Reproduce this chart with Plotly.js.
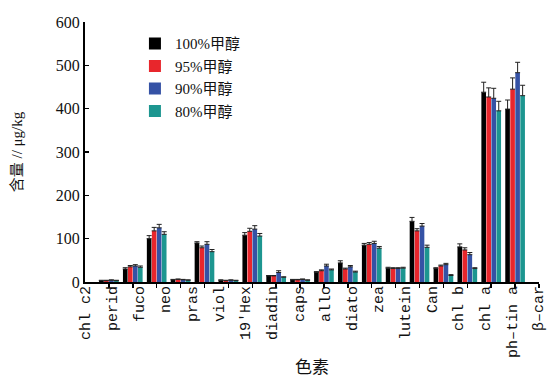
<!DOCTYPE html>
<html>
<head>
<meta charset="utf-8">
<script src="https://cdn.plot.ly/plotly-3.0.1.min.js"></script>
<style>html,body{margin:0;padding:0;background:#fff;}#chart{width:548px;height:379px;}</style>
</head>
<body>
<div id="chart"></div>
<script>
// pigment labels (tick text, evenly spread along the axis)
var pigments = ["chl c2","perid","fuco","neo","pras","viol","19\u2032Hex","diadin","caps","allo","diato","zea","lutein","Can","chl b","chl a","ph\u2013tin a","\u03b2\u2013car"];
// bar group positions (1..18)
var groupPos = [1,2,3,4,5,6,7,8,9,10,11,12,13,14,15,16,17,18];

var seriesNames = ["100%甲醇","95%甲醇","90%甲醇","80%甲醇"];
var seriesColors = ["#000000","#e8262c","#3552a5","#1d9690"];

var m100 = [3,30,100,5,90,4,108,14,5,22,44,85,32,140,31,81,438,399];
var m95  = [3,35,118,6,79,3,117,14,5,26,30,87,31,118,37,74,427,445];
var m90  = [4,37,125,5,87,4,122,22,6,37,35,89,31,129,40,63,424,483];
var m80  = [3,34,110,4,70,3,106,11,4,28,23,78,32,80,15,31,395,430];

var e100 = [1,3,7,1,3,1,6,1,1,2,5,4,2,9,2,7,23,21];
var e95  = [1,3,8,1,4,1,7,1,1,2,2,4,2,5,2,5,21,26];
var e90  = [1,3,8,1,6,1,8,4,1,4,3,5,2,6,3,5,23,24];
var e80  = [1,3,6,1,5,1,6,1,1,2,2,4,2,5,2,2,22,24];

var tickVals = [0,1,2,3,4,5,6,7,8,9,10,11,12,13,14,15,16,17];
var yTicks = [0,100,200,300,400,500,600];

var vals = [m100,m95,m90,m80];
var errs = [e100,e95,e90,e80];
var zeros = groupPos.map(function(){return 0;});

var font = "'Liberation Serif', 'Times New Roman', 'Noto Sans CJK SC', serif";

var traces = vals.map(function(v,i){
  return {
    type:"bar", x:groupPos, y:v, name:seriesNames[i],
    marker:{color:seriesColors[i], line:{width:0}},
    error_y:{type:"data", array:errs[i], arrayminus:zeros, symmetric:false, visible:true, color:"#222", thickness:1, width:2.5},
    hoverinfo:"skip"
  };
});

var layout = {
  width:548, height:379,
  margin:{l:85, r:9, t:22, b:97},
  paper_bgcolor:"#fff", plot_bgcolor:"#fff",
  barmode:"group", bargap:0.16, bargroupgap:0.08,
  showlegend:true,
  legend:{x:0.11, y:0.98, xanchor:"left", yanchor:"top", bgcolor:"rgba(0,0,0,0)",
          font:{family:font, size:15, color:"#111"}, tracegroupgap:0, itemwidth:30},
  xaxis:{range:[0,19], tickvals:[1,2,3,4,5,6,7,8,9,10,11,12,13,14,15,16,17,18,19], showticklabels:false,
         ticks:"outside", ticklen:4, tickwidth:1.5, tickcolor:"#000",
         showline:true, linecolor:"#000", linewidth:2, showgrid:false, zeroline:false, fixedrange:true},
  xaxis2:{overlaying:"x", anchor:"y", side:"bottom", range:[-0.02,17.02], tickvals:tickVals, ticktext:pigments,
          tickangle:-90, ticks:"", showline:false, showgrid:false, zeroline:false, ticklabeloverflow:"allow",
          tickfont:{family:"'Liberation Mono', 'Courier New', monospace", size:15, color:"#111"},
          title:{text:"色素", font:{family:font, size:17, color:"#111"}, standoff:4}},
  yaxis:{range:[0,600], tickvals:yTicks, ticks:"inside", ticklen:4, tickwidth:1.5, tickcolor:"#000",
         showline:true, linecolor:"#000", linewidth:2, showgrid:false, zeroline:false,
         tickfont:{family:font, size:16, color:"#111"},
         title:{text:"含量 // μg/kg", font:{family:font, size:15, color:"#111"}, standoff:30}}
};

// invisible helper so the label axis is laid out
traces.push({type:"scatter", x:[], y:[], xaxis:"x2", yaxis:"y", showlegend:false, hoverinfo:"skip"});

Plotly.newPlot("chart", traces, layout, {staticPlot:true, displayModeBar:false});
</script>
</body>
</html>
